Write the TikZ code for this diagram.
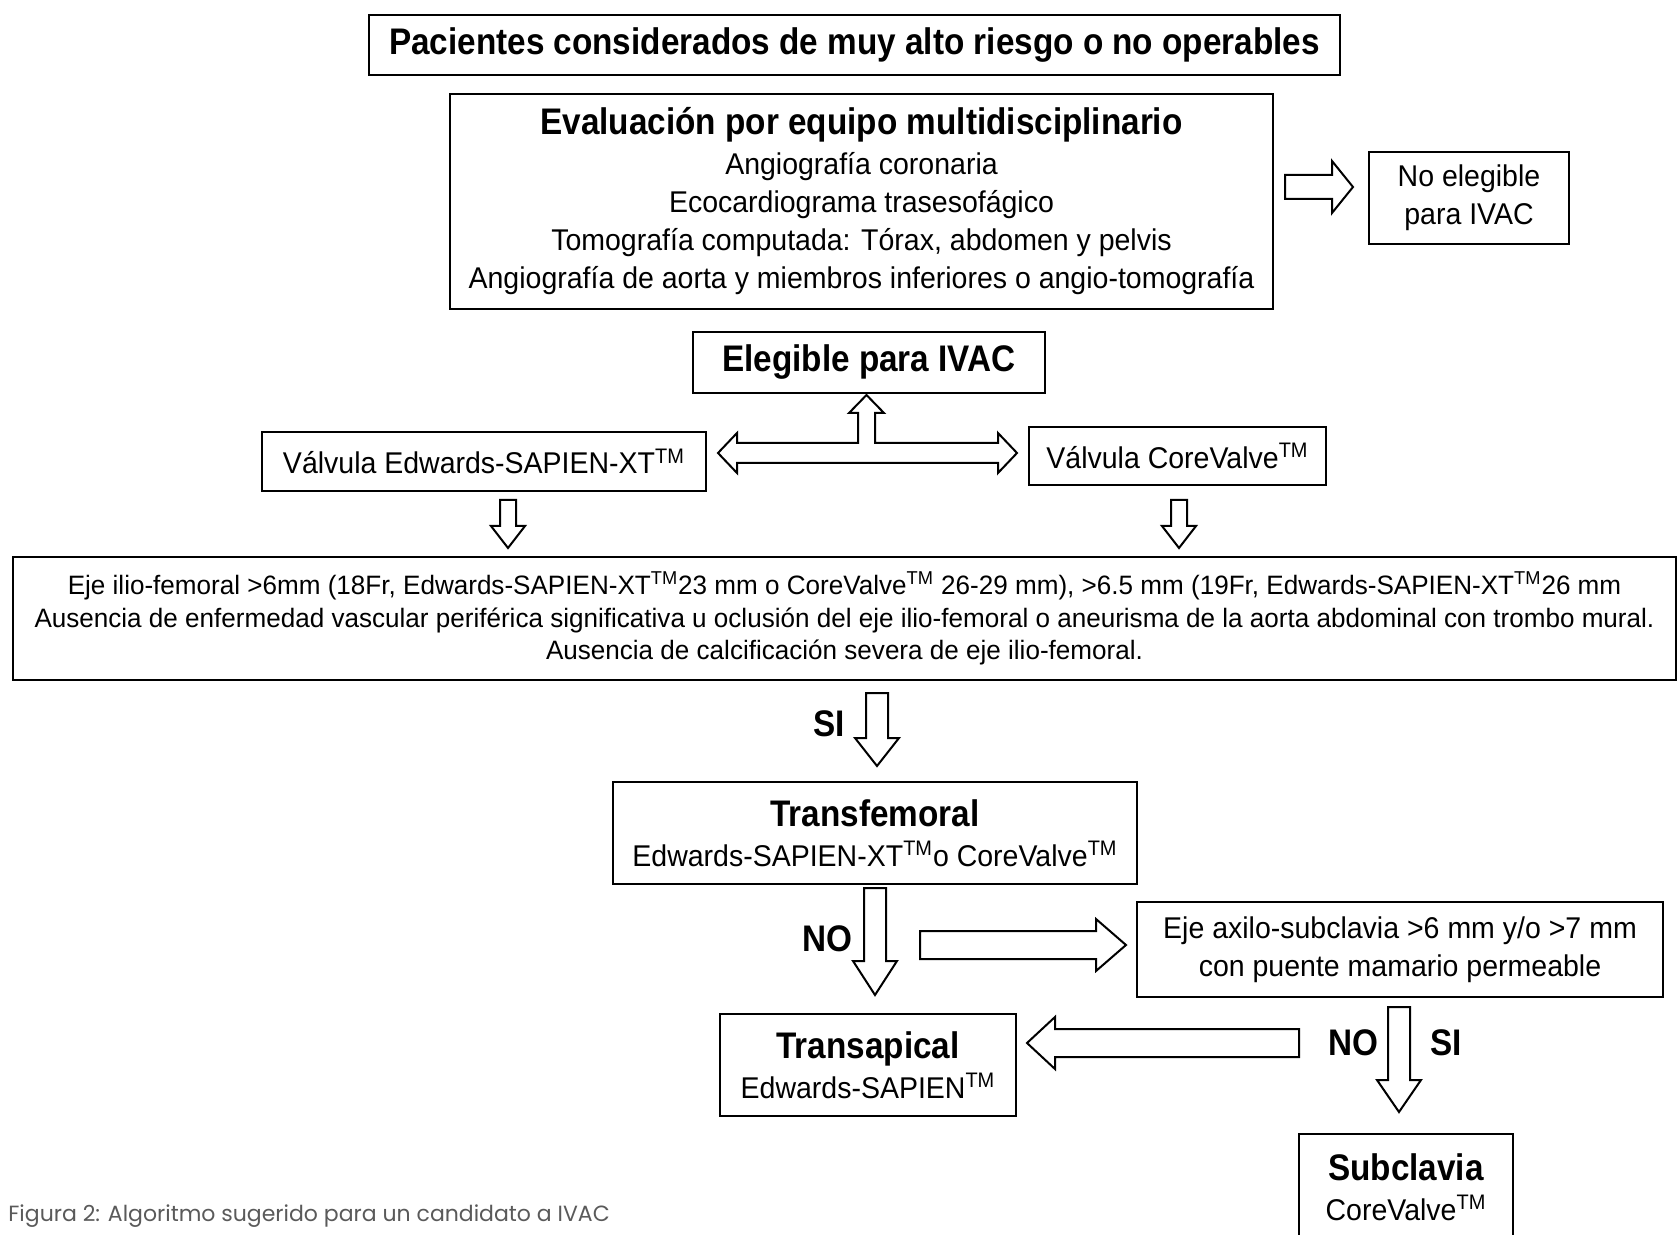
\documentclass[tikz,border=0pt]{standalone}
\usepackage{fontspec}
\setmainfont{Liberation Sans}
\newfontfamily\nreg[FakeStretch=0.95]{Liberation Sans}
\newfontfamily\nsmall[FakeStretch=0.98]{Liberation Sans}
\newfontfamily\nbold[FakeStretch=0.9]{Liberation Sans}
\newfontfamily\capfont{Poppins}
\usetikzlibrary{calc}
\definecolor{capgray}{RGB}{90,90,90}
\newcommand\blkdown[5]{\draw[blk] let \p1=(#1),\p2=(#2) in (\x1-#3,\y1) -- (\x1-#3,\y2+#5) -- (\x1-#4,\y2+#5) -- (\x1,\y2) -- (\x1+#4,\y2+#5) -- (\x1+#3,\y2+#5) -- (\x1+#3,\y1) -- cycle;}
\newcommand\blkright[5]{\draw[blk] let \p1=(#1),\p2=(#2) in (\x1,\y1+#3) -- (\x2-#5,\y1+#3) -- (\x2-#5,\y1+#4) -- (\x2,\y1) -- (\x2-#5,\y1-#4) -- (\x2-#5,\y1-#3) -- (\x1,\y1-#3) -- cycle;}
\newcommand\blkleft[5]{\draw[blk] let \p1=(#1),\p2=(#2) in (\x1,\y1+#3) -- (\x2+#5,\y1+#3) -- (\x2+#5,\y1+#4) -- (\x2,\y1) -- (\x2+#5,\y1-#4) -- (\x2+#5,\y1-#3) -- (\x1,\y1-#3) -- cycle;}
\newcommand\hdf{\nbold\bfseries\fontsize{18.5}{21}\selectfont}
\newcommand\rgf{\nreg\fontsize{15}{19}\selectfont}
\newcommand\tm{\textsuperscript{TM}}
\begin{document}
\begin{tikzpicture}[x=0.5pt,y=-0.5pt,
  box/.style={draw=black, line width=1pt, fill=white, inner sep=0pt, align=center},
  blk/.style={draw=black, line width=1pt, fill=white, line join=miter},
  lbl/.style={font=\hdf, inner sep=0pt}]
\useasboundingbox[fill=white] (0,0) rectangle (1677,1235);

% boxes
\node[box, minimum width=485.5pt, minimum height=30pt] (title) at (854.5,45) {\hdf Pacientes considerados de muy alto riesgo o no operables};
\node[box, minimum width=411.5pt, minimum height=107.5pt, font=\rgf] (eval) at (861.5,201.5)
  {{\hdf Evaluación por equipo multidisciplinario}\\[1pt]
   Angiografía coronaria\\
   Ecocardiograma trasesofágico\\
   Tomografía computada: Tórax, abdomen y pelvis\\
   Angiografía de aorta y miembros inferiores o angio-tomografía};
\node[box, minimum width=100pt, minimum height=46pt, font=\rgf] (noel) at (1469,198) {No elegible\\para IVAC};
\node[box, minimum width=176pt, minimum height=30.5pt] (eleg) at (869,362.5) {\hdf Elegible para IVAC};
\node[box, minimum width=222pt, minimum height=29.5pt, font=\rgf] (edw) at (484,461.5) {Válvula Edwards-SAPIEN-XT\tm};
\node[box, minimum width=148.5pt, minimum height=29pt, font=\rgf] (core) at (1177.5,456) {Válvula CoreValve\tm};
\node[box, minimum width=831.5pt, minimum height=61.5pt, font=\nsmall\fontsize{13.3}{16.3}\selectfont] (big) at (844.5,618.5)
  {Eje ilio-femoral >6mm (18Fr, Edwards-SAPIEN-XT\tm 23 mm o CoreValve\tm{} 26-29 mm), >6.5 mm (19Fr, Edwards-SAPIEN-XT\tm 26 mm\\
   Ausencia de enfermedad vascular periférica significativa u oclusión del eje ilio-femoral o aneurisma de la aorta abdominal con trombo mural.\\
   Ausencia de calcificación severa de eje ilio-femoral.};
\node[box, minimum width=262pt, minimum height=51pt, font=\rgf] (transf) at (875,833)
  {{\hdf Transfemoral}\\[1pt] Edwards-SAPIEN-XT\tm o CoreValve\tm};
\node[box, minimum width=263pt, minimum height=47.5pt, font=\rgf] (eje) at (1400,949.5)
  {Eje axilo-subclavia >6 mm y/o >7 mm\\ con puente mamario permeable};
\node[box, minimum width=148pt, minimum height=51pt, font=\rgf] (transap) at (868,1065)
  {{\hdf Transapical}\\[1pt] Edwards-SAPIEN\tm};
\node[box, minimum width=107pt, minimum height=53pt, font=\rgf] (subcl) at (1406,1187)
  {{\hdf Subclavia}\\[1pt] CoreValve\tm};

% arrow end points
\coordinate (a1s) at (1285,187);  \coordinate (a1e) at (1353,187);
\coordinate (a3s) at (508,500);   \coordinate (a3e) at (508,548);
\coordinate (a4s) at (1179,500);  \coordinate (a4e) at (1179,548);
\coordinate (a5s) at (877,693);   \coordinate (a5e) at (877,766);
\coordinate (a6s) at (875,888);   \coordinate (a6e) at (875,995);
\coordinate (a7s) at (920,945);   \coordinate (a7e) at (1126,945);
\coordinate (a8s) at (1299,1043); \coordinate (a8e) at (1027,1043);
\coordinate (a9s) at (1399,1007); \coordinate (a9e) at (1399,1112);

% hollow arrows
\blkright{a1s}{a1e}{6pt}{13pt}{10.5pt}
\draw[blk] (718,453) -- (737,433) -- (737,443) -- (858,443) -- (858,413) -- (849,413) -- (866.5,395)
  -- (884,413) -- (875,413) -- (875,443) -- (998,443) -- (998,433) -- (1017,453) -- (998,473)
  -- (998,463) -- (737,463) -- (737,473) -- cycle;
\blkdown{a3s}{a3e}{4pt}{8.5pt}{11pt}
\blkdown{a4s}{a4e}{4pt}{8.5pt}{11pt}
\blkdown{a5s}{a5e}{5.5pt}{11pt}{14pt}
\blkdown{a6s}{a6e}{5.5pt}{11pt}{17pt}
\blkright{a7s}{a7e}{7pt}{13pt}{15pt}
\blkleft{a8s}{a8e}{7pt}{13pt}{14pt}
\blkdown{a9s}{a9e}{5.5pt}{11pt}{16pt}

% labels
\node[lbl] (si1) at (829,724) {SI};
\node[lbl] (no1) at (827,939) {NO};
\node[lbl] (no2) at (1353,1043) {NO};
\node[lbl] (si2) at (1446,1043) {SI};

% caption
\node[anchor=west, inner sep=0pt, text=capgray, font=\capfont\fontsize{11}{13}\selectfont] (cap) at (8,1216)
  {Figura 2: Algoritmo sugerido para un candidato a IVAC};
\end{tikzpicture}
\end{document}
